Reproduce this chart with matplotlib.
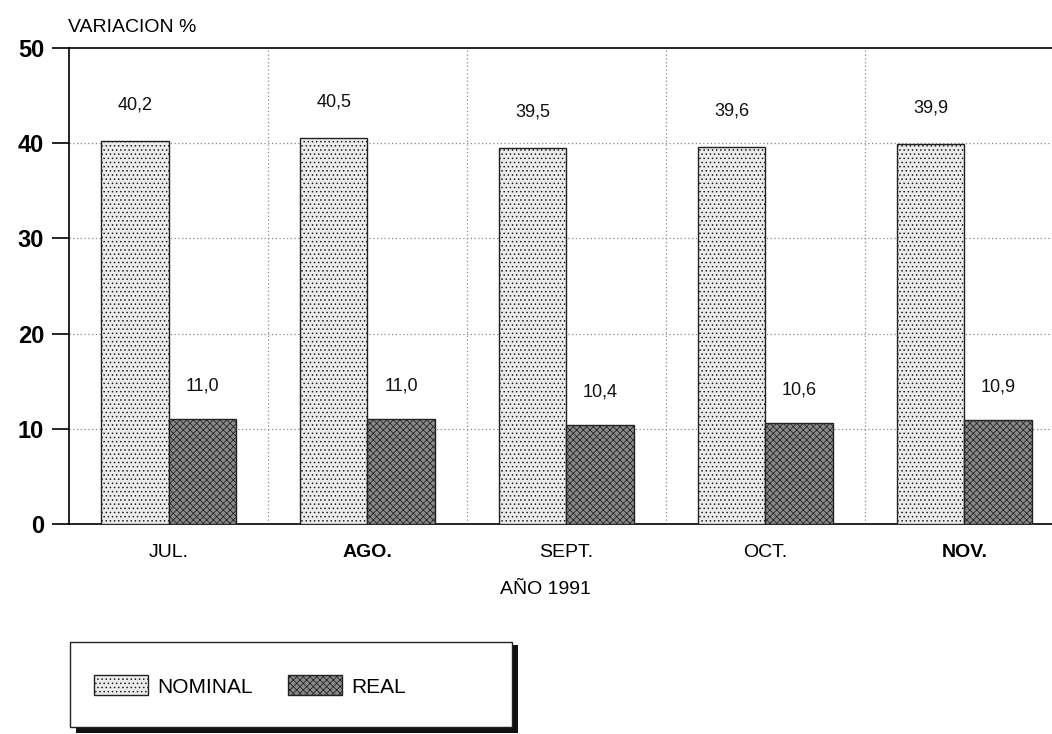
import matplotlib
matplotlib.use("Agg")
import matplotlib.pyplot as plt
import numpy as np
from matplotlib.patches import Rectangle

months = ["JUL.", "AGO.", "SEPT.", "OCT.", "NOV."]
nominal = [40.2, 40.5, 39.5, 39.6, 39.9]
real = [11.0, 11.0, 10.4, 10.6, 10.9]
nominal_labels = ["40,2", "40,5", "39,5", "39,6", "39,9"]
real_labels = ["11,0", "11,0", "10,4", "10,6", "10,9"]
yticks = [0, 10, 20, 30, 40, 50]

plt.rcParams['font.family'] = ['Liberation Sans', 'DejaVu Sans']
plt.rcParams['hatch.linewidth'] = 0.6

fig = plt.figure(figsize=(10.52, 7.34), dpi=100)
ax = fig.add_axes([0.0656, 0.286, 0.9344, 0.6486])

x = np.arange(len(months))
w = 0.337
plt.rcParams['hatch.color'] = '#9a9a9a'
b1 = ax.bar(x - w/2, nominal, w, facecolor='#ececec', edgecolor='#222222',
            hatch='....', linewidth=1.0, label='NOMINAL', zorder=3)
b2 = ax.bar(x + w/2, real, w, facecolor='#8a8a8a', edgecolor='#222222',
            hatch='xxxxx', linewidth=1.0, label='REAL', zorder=3)
for b in b2:
    b._hatch_color = (0.15, 0.15, 0.15, 1)

for xi, v, t in zip(x, nominal, nominal_labels):
    ax.text(xi - w/2, v + 2.9, t, ha='center', va='bottom', fontsize=13, color='#111111')
for xi, v, t in zip(x, real, real_labels):
    ax.text(xi + w/2, v + 2.6, t, ha='center', va='bottom', fontsize=13, color='#111111')

ax.set_xlim(-0.5, 4.44)
ax.set_ylim(0, 50)
ax.set_yticks(yticks)
ax.set_yticklabels([str(v) for v in yticks], fontsize=17, fontweight='bold')
ax.tick_params(axis='y', direction='out', length=12, width=1.2, pad=6)
ax.set_xticks(x)
ax.set_xticklabels(months, fontsize=14)
for i, lab in enumerate(ax.get_xticklabels()):
    if i in (1, 4):
        lab.set_fontweight('bold')
ax.tick_params(axis='x', length=0, pad=14)

for g in np.arange(0.5, 4.5, 1.0):
    ax.axvline(g, color='#888888', linestyle=(0, (1, 2)), linewidth=0.9, zorder=1)
for yv in [10, 20, 30, 40]:
    ax.axhline(yv, color='#888888', linestyle=(0, (1, 2)), linewidth=0.9, zorder=1)

ax.spines['right'].set_visible(False)
ax.spines['top'].set_linewidth(1.2)
ax.spines['left'].set_linewidth(1.2)
ax.spines['bottom'].set_linewidth(1.2)

fig.text(68/1052, 1 - 27/734, "VARIACION %", fontsize=14, ha='left', va='center')
fig.text(545/1052, 1 - 590/734, "AÑO 1991", fontsize=14, ha='center', va='center')

# legend box with shadow
shadow = Rectangle((76/1052, 1 - 733/734), 442/1052, 88/734, transform=fig.transFigure,
                   facecolor='#111111', edgecolor='none', zorder=0)
fig.patches.append(shadow)
box = Rectangle((70/1052, 1 - 727/734), 442/1052, 85/734, transform=fig.transFigure,
                facecolor='white', edgecolor='#222222', linewidth=1.0, zorder=1)
fig.patches.append(box)
leg = fig.legend(handles=[b1, b2], labels=['NOMINAL', 'REAL'], loc='center',
                 bbox_to_anchor=(250/1052, 1 - 686/734), ncol=2, frameon=False,
                 fontsize=15, handlelength=2.6, handleheight=1.1, columnspacing=1.7,
                 handletextpad=0.45)

fig.savefig("out.png", dpi=100)
